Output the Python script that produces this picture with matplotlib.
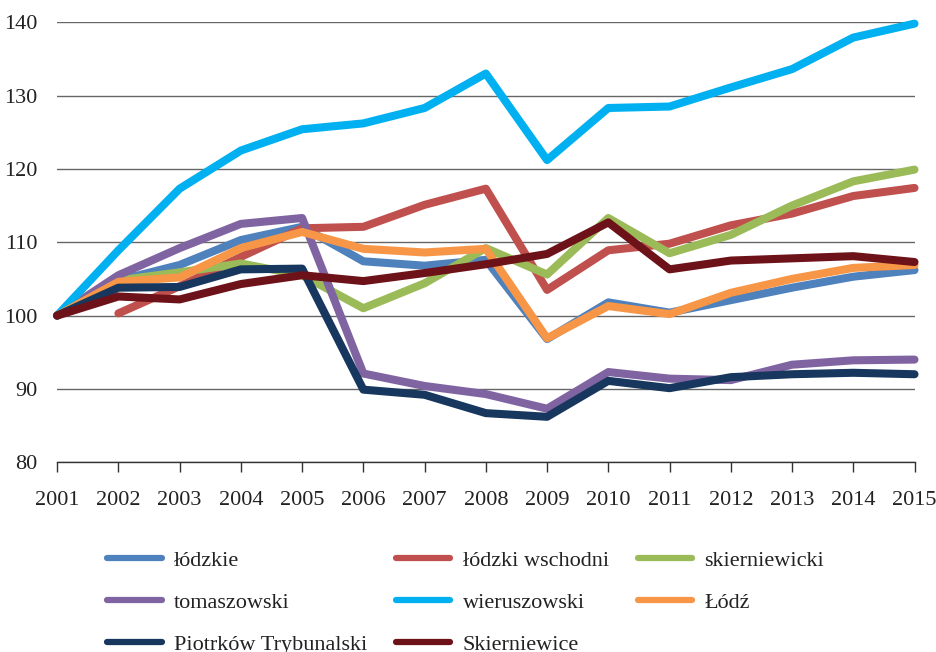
import matplotlib
matplotlib.use('Agg')
import matplotlib.pyplot as plt

plt.rcParams['font.family'] = ['Liberation Serif', 'DejaVu Serif']

# dane
lata = list(range(2001, 2016))

lodzkie = [100, 104.8, 106.9, 110.3, 112.1, 107.4, 106.8, 107.6, 96.8, 101.8, 100.4, 102.1, 103.8, 105.3, 106.2]
lodzki_wsch = [None, 100.3, 104.0, 108.0, 111.9, 112.1, 115.1, 117.3, 103.5, 108.9, 109.8, 112.3, 113.9, 116.3, 117.4]
skierniewicki = [100, 104.8, 105.9, 107.1, 105.5, 101.0, 104.4, 109.2, 105.6, 113.3, 108.5, 111.0, 115.0, 118.3, 119.9]
tomaszowski = [100, 105.5, 109.2, 112.5, 113.3, 92.1, 90.4, 89.3, 87.3, 92.3, 91.4, 91.2, 93.3, 93.9, 94.0]
wieruszowski = [100, 108.9, 117.3, 122.5, 125.4, 126.2, 128.3, 133.0, 121.2, 128.3, 128.5, 131.1, 133.6, 137.9, 139.8]
lodz = [100, 104.6, 105.2, 109.2, 111.4, 109.1, 108.6, 109.1, 96.9, 101.3, 100.2, 103.1, 105.0, 106.5, 106.9]
piotrkow = [100, 103.8, 103.9, 106.3, 106.4, 89.9, 89.2, 86.7, 86.2, 91.1, 90.1, 91.6, 92.0, 92.2, 92.0]
skierniewice = [100, 102.6, 102.2, 104.3, 105.5, 104.7, 105.8, 107.0, 108.4, 112.7, 106.3, 107.5, 107.8, 108.1, 107.3]

nazwy = ['łódzkie', 'łódzki wschodni', 'skierniewicki', 'tomaszowski',
         'wieruszowski', 'Łódź', 'Piotrków Trybunalski', 'Skierniewice']
serie = [lodzkie, lodzki_wsch, skierniewicki, tomaszowski,
         wieruszowski, lodz, piotrkow, skierniewice]
kolory = ['#4F81BD', '#C0504D', '#9BBB59', '#8064A2',
          '#00B0F0', '#F79646', '#17375E', '#6E1219']

fig = plt.figure(figsize=(9.37, 6.52), dpi=100)
ax = fig.add_axes([0.061, 0.291, 0.915, 0.675])

linie = {}
for nazwa, s, k in zip(nazwy, serie, kolory):
    xs = [x for x, v in zip(lata, s) if v is not None]
    ys = [v for v in s if v is not None]
    l, = ax.plot(xs, ys, color=k, lw=5.8, label=nazwa,
                 solid_capstyle='round', solid_joinstyle='round', clip_on=False)
    linie[nazwa] = l

ax.set_xlim(2001, 2015)
ax.set_ylim(80, 140)
ax.set_yticks(range(80, 141, 10))
ax.set_xticks(lata)
ax.yaxis.grid(True, color='#666666', lw=1.0)
ax.set_axisbelow(True)
for s in ['left', 'right', 'top']:
    ax.spines[s].set_visible(False)
ax.spines['bottom'].set_color('#333333')
ax.spines['bottom'].set_linewidth(1.0)
ax.tick_params(axis='y', length=0, pad=14, labelsize=16, labelcolor='#222222')
ax.tick_params(axis='x', direction='out', length=7, width=1.0, color='#333333',
               pad=14, labelsize=16, labelcolor='#222222')

# legenda wierszami jak w oryginale
kolejnosc = ['łódzkie', 'tomaszowski', 'Piotrków Trybunalski',
             'łódzki wschodni', 'wieruszowski', 'Skierniewice',
             'skierniewicki', 'Łódź']
leg = fig.legend([linie[n] for n in kolejnosc], kolejnosc, ncol=3,
                 loc='upper left', bbox_to_anchor=(0.093, 0.187), frameon=False,
                 fontsize=16, handlelength=2.45, handletextpad=0.55,
                 columnspacing=1.3, labelspacing=0.97, labelcolor='#222222')
for l in leg.get_lines():
    l.set_linewidth(4.5)

fig.savefig('out.png', dpi=100)
